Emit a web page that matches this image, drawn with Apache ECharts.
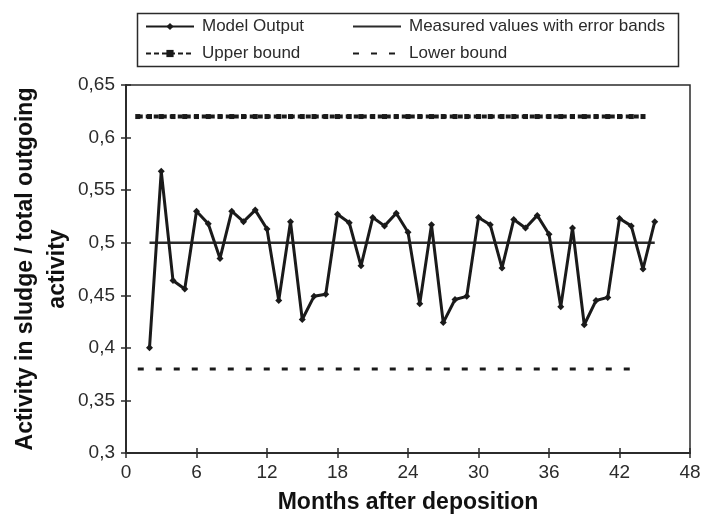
<!DOCTYPE html>
<html>
<head>
<meta charset="utf-8">
<script src="https://cdn.jsdelivr.net/npm/echarts@6/dist/echarts.min.js"></script>
<style>
  html, body { margin: 0; padding: 0; background: #fff; }
  #main { width: 704px; height: 518px; }
</style>
</head>
<body>
<div id="main"></div>
<script>
// months after deposition for the model output (2 .. 45)
let modelMonths = [2, 3, 4, 5, 6, 7, 8, 9, 10, 11, 12, 13, 14, 15, 16, 17, 18, 19, 20, 21, 22, 23,
  24, 25, 26, 27, 28, 29, 30, 31, 32, 33, 34, 35, 36, 37, 38, 39, 40, 41, 42, 43, 44, 45];
let modelValues = [0.400, 0.568, 0.464, 0.456, 0.530, 0.518, 0.485, 0.530, 0.520, 0.531, 0.513, 0.445,
  0.520, 0.427, 0.449, 0.451, 0.527, 0.519, 0.478, 0.524, 0.516, 0.528, 0.510, 0.442,
  0.517, 0.424, 0.446, 0.449, 0.524, 0.517, 0.476, 0.522, 0.514, 0.526, 0.508, 0.439,
  0.514, 0.422, 0.445, 0.448, 0.523, 0.516, 0.475, 0.520];

let measuredMonths = [2, 45];
let measuredValues = [0.5, 0.5];

let upperMonths = [1, 2, 3, 4, 5, 6, 7, 8, 9, 10, 11, 12, 13, 14, 15, 16, 17, 18, 19, 20, 21, 22,
  23, 24, 25, 26, 27, 28, 29, 30, 31, 32, 33, 34, 35, 36, 37, 38, 39, 40, 41, 42, 43, 44];
let upperValue = 0.62;

let lowerMonths = [1, 43];
let lowerValue = 0.38;

let xTicks = { min: 0, max: 48, step: 6 };
let yTicks = { min: 0.3, max: 0.65, step: 0.05 };

function pairs(xs, ys) {
  return xs.map((x, i) => [x, Array.isArray(ys) ? ys[i] : ys]);
}

let ink = '#2b2b2b';
let font = 'Arial, "Liberation Sans", Helvetica, sans-serif';

let legendBase = {
  padding: 0,
  itemWidth: 48,
  itemHeight: 9,
  textStyle: { color: ink, fontSize: 17, fontFamily: font, padding: [0, 0, 0, 3] },
  selectedMode: false
};

let option = {
  backgroundColor: '#fff',
  animation: false,
  grid: {
    left: 126, right: 14, top: 85, bottom: 65,
    outerBoundsMode: 'none',
    containLabel: false,
    show: true,
    borderColor: ink,
    borderWidth: 1.5
  },
  legend: [
    Object.assign({}, legendBase, { left: 145, top: 18, data: ['Model Output'] }),
    Object.assign({}, legendBase, { left: 352, top: 18, data: [{ name: 'Measured values with error bands', itemStyle: { opacity: 0 } }] }),
    Object.assign({}, legendBase, { left: 145, top: 45, data: ['Upper bound'] }),
    Object.assign({}, legendBase, { left: 352, top: 45, data: [{ name: 'Lower bound', itemStyle: { opacity: 0 } }] })
  ],
  graphic: [{
    type: 'rect',
    left: 135, top: 11,
    shape: { width: 541, height: 53 },
    style: { fill: 'none', stroke: ink, lineWidth: 1.5 }
  }],
  xAxis: [{
    type: 'value',
    min: xTicks.min, max: xTicks.max, interval: xTicks.step,
    name: 'Months after deposition',
    nameLocation: 'middle',
    nameGap: 38,
    nameMoveOverlap: false,
    nameTextStyle: { color: '#111', fontSize: 23, fontWeight: 'bold', fontFamily: font },
    axisLine: { show: true, onZero: false, lineStyle: { color: ink, width: 2 } },
    axisTick: { show: true, length: 5, lineStyle: { color: ink, width: 1.5 } },
    axisLabel: { color: ink, fontSize: 19, fontFamily: font, margin: 10 },
    splitLine: { show: false }
  }, {
    type: 'value',
    position: 'bottom',
    min: xTicks.min, max: xTicks.max, interval: xTicks.step,
    axisLine: { show: false },
    axisTick: { show: true, inside: true, length: 5, lineStyle: { color: ink, width: 1.5 } },
    axisLabel: { show: false },
    splitLine: { show: false }
  }],
  yAxis: [{
    type: 'value',
    min: yTicks.min, max: yTicks.max, interval: yTicks.step,
    name: 'Activity in sludge / total outgoing\nactivity',
    nameLocation: 'middle',
    nameGap: 52,
    nameMoveOverlap: false,
    nameRotate: 90,
    nameTextStyle: { color: '#111', fontSize: 23, fontWeight: 'bold', fontFamily: font, lineHeight: 32, align: 'center' },
    axisLine: { show: true, onZero: false, lineStyle: { color: ink, width: 2 } },
    axisTick: { show: true, length: 5, lineStyle: { color: ink, width: 1.5 } },
    axisLabel: {
      color: ink, fontSize: 19, fontFamily: font, margin: 11,
      formatter: v => String(+v.toFixed(2)).replace('.', ',')
    },
    splitLine: { show: false }
  }, {
    type: 'value',
    position: 'left',
    min: yTicks.min, max: yTicks.max, interval: yTicks.step,
    axisLine: { show: false },
    axisTick: { show: true, inside: true, length: 5, lineStyle: { color: ink, width: 1.5 } },
    axisLabel: { show: false },
    splitLine: { show: false }
  }],
  series: [
    {
      name: 'Model Output',
      type: 'line',
      data: pairs(modelMonths, modelValues),
      symbol: 'diamond',
      symbolSize: 7,
      showAllSymbol: true,
      itemStyle: { color: '#1a1a1a' },
      lineStyle: { color: '#1a1a1a', width: 3 },
      z: 5
    },
    {
      name: 'Measured values with error bands',
      type: 'line',
      data: pairs(measuredMonths, measuredValues),
      symbol: 'none',
      itemStyle: { color: ink },
      lineStyle: { color: ink, width: 2.5 }
    },
    {
      name: 'Upper bound',
      type: 'line',
      data: pairs(upperMonths, upperValue),
      symbol: 'rect',
      symbolSize: 5,
      showAllSymbol: true,
      itemStyle: { color: '#1a1a1a' },
      lineStyle: { color: '#1a1a1a', width: 4, type: [5, 3] }
    },
    {
      name: 'Lower bound',
      type: 'line',
      data: pairs(lowerMonths, lowerValue),
      symbol: 'none',
      itemStyle: { color: '#1a1a1a' },
      lineStyle: { color: '#1a1a1a', width: 3, type: [6, 12] }
    }
  ]
};

let chart = echarts.init(document.getElementById('main'), null, { renderer: 'canvas' });
chart.setOption(option);
</script>
</body>
</html>
